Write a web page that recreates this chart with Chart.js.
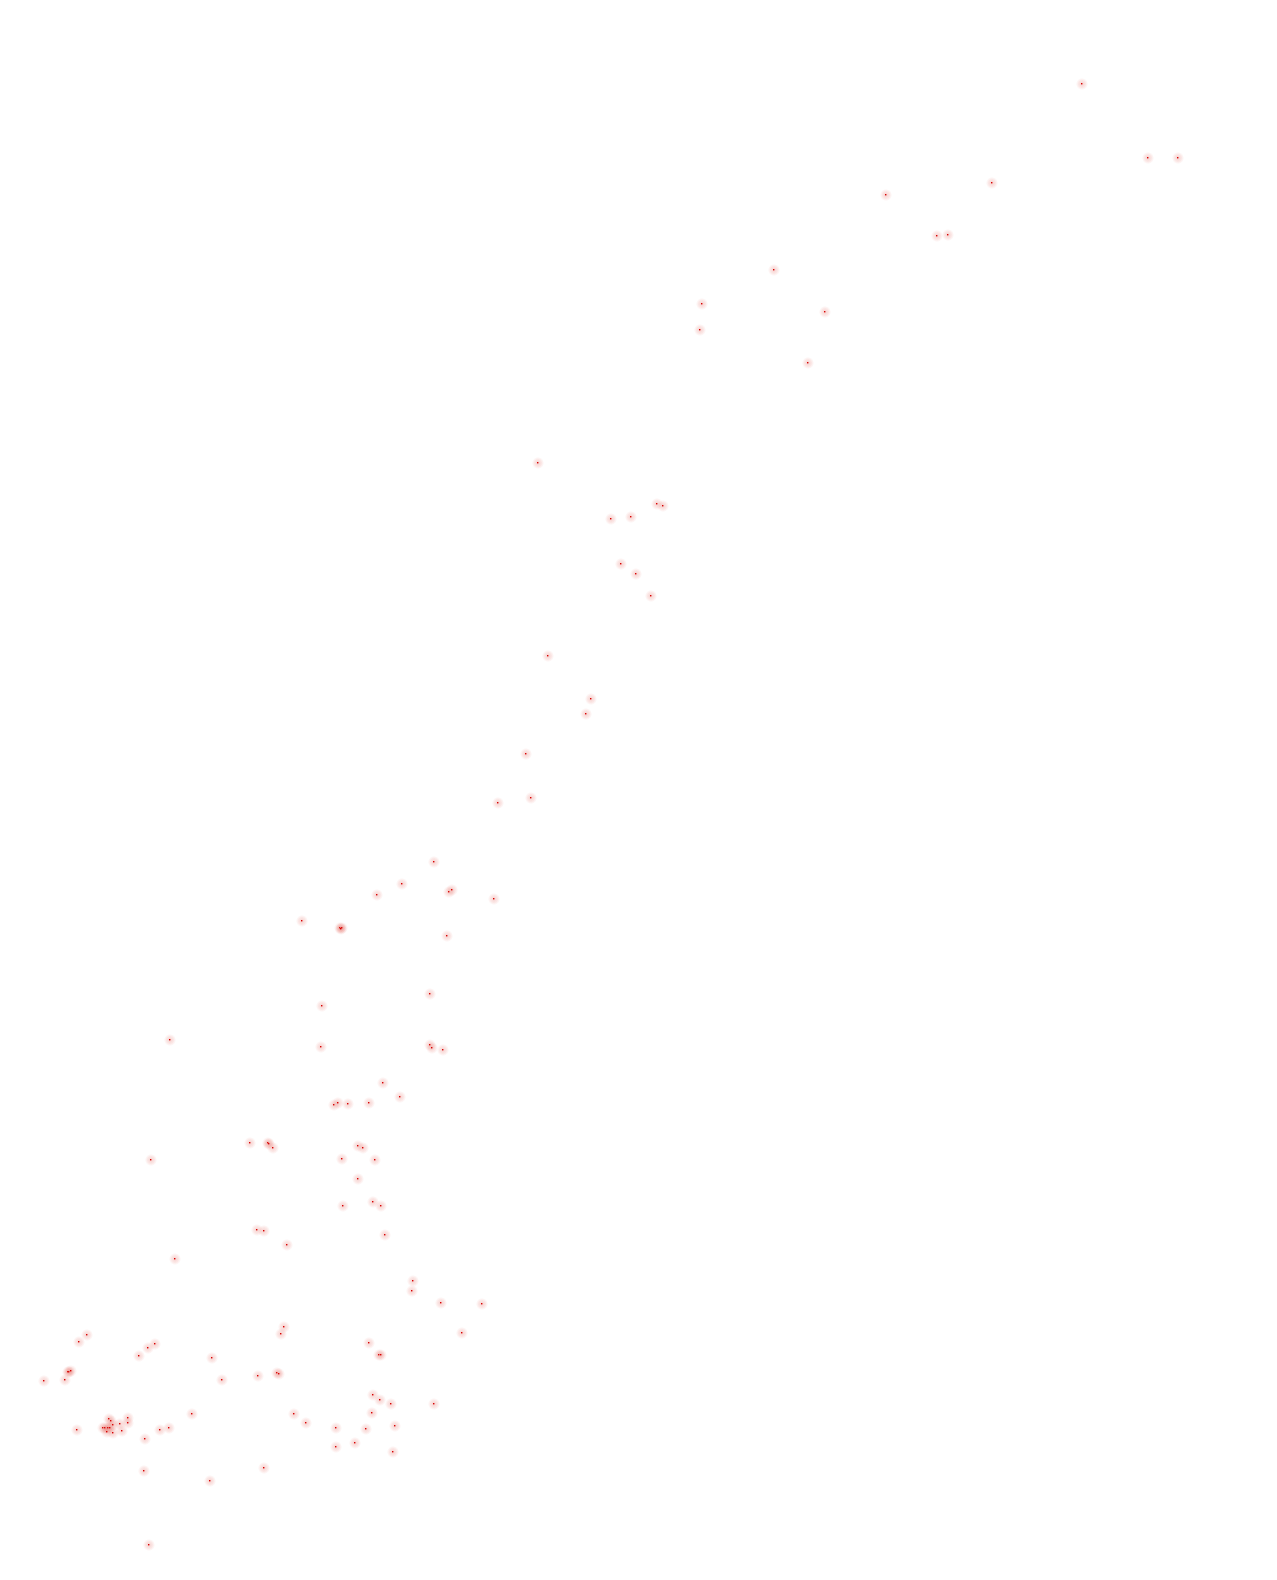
<!DOCTYPE html>
<html>
<head>
<meta charset="utf-8">
<script src="https://cdn.jsdelivr.net/npm/chart.js@4"></script>
<style>
  html, body { margin: 0; padding: 0; background: #ffffff; }
  canvas { display: block; }
</style>
</head>
<body>
<canvas id="scatter_chart" width="1277" height="1580"></canvas>
<script>
// point positions (no axes shown, units = page pixels)
const xs = [
    1082, 1148, 1178, 992, 886, 937, 948, 774, 702, 825, 700, 808,
    538, 657, 663, 611, 631, 621, 636, 651, 548, 591, 586, 526, 531, 498,
    434, 402, 377, 449, 452, 494, 302, 340, 342, 341, 447,
    430, 322, 170, 321, 430, 432, 443, 383, 400, 334, 338, 348, 369,
    250, 268, 269, 273, 358, 363, 151, 342, 375, 358, 343, 373, 381,
    257, 264, 385, 287, 175,
    87, 79, 155, 148, 139, 212, 68, 69, 71, 44, 65, 222, 192,
    109, 111, 128, 128, 120, 113, 77, 103, 105, 108, 110, 122, 107, 113,
    160, 169, 145, 144,
    413, 412, 441, 482, 284, 281, 462, 369, 379, 381, 258, 277, 279,
    373, 380, 391, 434, 294, 306, 372, 336, 366, 395, 355, 336, 393, 264,
    210, 149
]
const ys = [
    84, 158, 158, 183, 195, 236, 235, 270, 304, 312, 330, 363,
    463, 504, 506, 519, 517, 564, 574, 596, 656, 699, 714, 754, 798, 803,
    862, 884, 895, 892, 890, 899, 921, 928, 928, 929, 936,
    994, 1006, 1040, 1047, 1045, 1048, 1050, 1083, 1097, 1105, 1103, 1104, 1103,
    1143, 1143, 1144, 1148, 1146, 1148, 1160, 1159, 1160, 1179, 1206, 1202, 1206,
    1230, 1231, 1235, 1245, 1259,
    1335, 1342, 1344, 1348, 1356, 1358, 1372, 1372, 1371, 1381, 1380, 1380, 1414,
    1419, 1421, 1418, 1423, 1424, 1425, 1430, 1428, 1428, 1428, 1428, 1431, 1432, 1433,
    1430, 1428, 1439, 1471,
    1281, 1291, 1303, 1304, 1327, 1334, 1333, 1343, 1355, 1355, 1376, 1373, 1374,
    1395, 1400, 1404, 1404, 1414, 1423, 1413, 1428, 1429, 1426, 1443, 1447, 1452, 1468,
    1481, 1545
]

// soft pink halo with a tiny red centre
function make_point_image()
{
    const size = 12
    const c = document.createElement('canvas')
    c.width = size
    c.height = size
    const g = c.getContext('2d')
    const grad = g.createRadialGradient(6, 6, 0, 6, 6, 6)
    grad.addColorStop(0, 'rgba(225, 80, 70, 0.26)')
    grad.addColorStop(0.6, 'rgba(225, 80, 70, 0.13)')
    grad.addColorStop(1, 'rgba(225, 80, 70, 0)')
    g.fillStyle = grad
    g.fillRect(0, 0, size, size)
    g.fillStyle = 'rgb(215, 0, 0)'
    g.fillRect(5, 5, 1.4, 1.4)
    return c
}

function load_scatter_chart()
{
    const ctx = document.getElementById('scatter_chart').getContext('2d')
    const points = xs.map((x, i) => ({ x: x, y: ys[i] }))

    new Chart(ctx,
        {
            type: 'scatter',
            data: {
                datasets: [{
                    data: points,
                    pointStyle: make_point_image(),
                    pointRadius: 6,
                    pointHoverRadius: 6
                }]
            },
            options: {
                responsive: false,
                animation: false,
                events: [],
                layout: { padding: 0, autoPadding: false },
                plugins: {
                    legend: { display: false },
                    tooltip: { enabled: false }
                },
                scales: {
                    x: { type: 'linear', min: 0, max: 1277, display: false },
                    y: { type: 'linear', min: 0, max: 1580, reverse: true, display: false }
                }
            }
        }
    )
}

load_scatter_chart()
</script>
</body>
</html>
